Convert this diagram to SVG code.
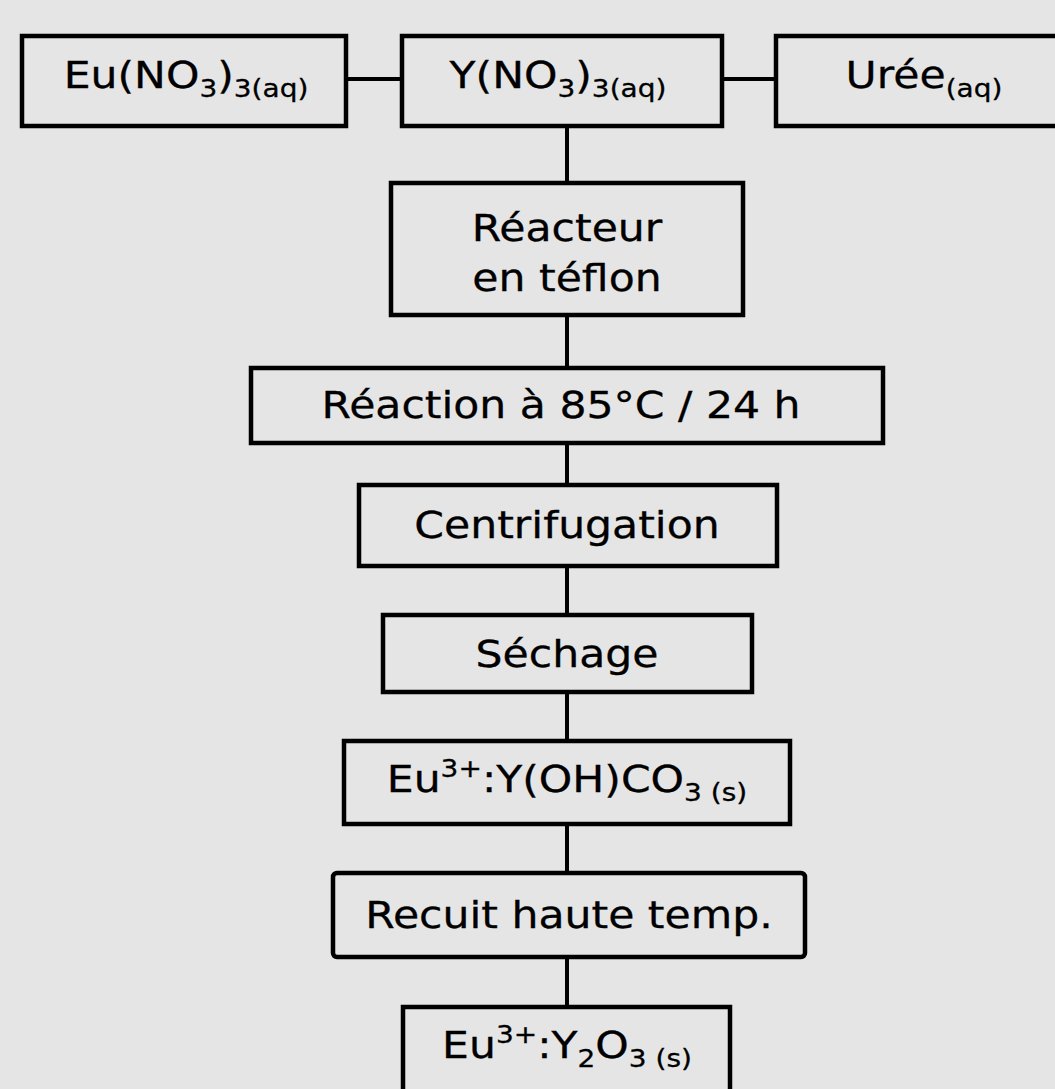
<svg xmlns="http://www.w3.org/2000/svg" width="1055" height="1089" viewBox="0 0 1055 1089">
<style>
.box{fill:none;stroke:#000;stroke-width:4.5}
.con{fill:none;stroke:#000;stroke-width:4}
text{font-family:"DejaVu Sans",Verdana,sans-serif;font-size:38px;fill:#000;stroke:#000;stroke-width:0.3;text-anchor:middle}
.s{font-size:25px}
</style>
<rect x="0" y="0" width="1055" height="1089" fill="#e5e5e5"/>
<g id="connectors">
<line class="con" x1="346" y1="79" x2="402" y2="79"/>
<line class="con" x1="722" y1="79" x2="775" y2="79"/>
<line class="con" x1="567" y1="127" x2="567" y2="183"/>
<line class="con" x1="567" y1="315" x2="567" y2="368"/>
<line class="con" x1="567" y1="443" x2="567" y2="485"/>
<line class="con" x1="567" y1="566" x2="567" y2="615"/>
<line class="con" x1="567" y1="692" x2="567" y2="741"/>
<line class="con" x1="567" y1="824" x2="567" y2="873"/>
<line class="con" x1="567" y1="957" x2="567" y2="1007"/>
</g>
<g id="eu-nitrate">
<rect class="box" x="22" y="36" width="324" height="90"/>
<text transform="translate(186 88) scale(1.12 1)">Eu(NO<tspan class="s" dy="9">3</tspan><tspan dy="-9">)</tspan><tspan class="s" dy="9">3(aq)</tspan></text>
</g>
<g id="y-nitrate">
<rect class="box" x="402" y="36" width="320" height="90"/>
<text transform="translate(558 88) scale(1.12 1)">Y(NO<tspan class="s" dy="9">3</tspan><tspan dy="-9">)</tspan><tspan class="s" dy="9">3(aq)</tspan></text>
</g>
<g id="uree">
<rect class="box" x="776" y="36" width="300" height="90"/>
<text transform="translate(924 88) scale(1.12 1)">Urée<tspan class="s" dy="9">(aq)</tspan></text>
</g>
<g id="reacteur">
<rect class="box" x="391" y="183" width="352" height="132"/>
<text transform="translate(567 241) scale(1.12 1)">Réacteur</text>
<text transform="translate(567 291) scale(1.12 1)">en téflon</text>
</g>
<g id="reaction">
<rect class="box" x="251" y="368" width="632" height="75"/>
<text transform="translate(561 418) scale(1.12 1)">Réaction à 85°C / 24 h</text>
</g>
<g id="centrifugation">
<rect class="box" x="359" y="485" width="418" height="81"/>
<text transform="translate(567 538) scale(1.12 1)">Centrifugation</text>
</g>
<g id="sechage">
<rect class="box" x="383" y="615" width="369" height="77"/>
<text transform="translate(567 667) scale(1.12 1)">Séchage</text>
</g>
<g id="hydroxycarbonate">
<rect class="box" x="344" y="741" width="446" height="83"/>
<text transform="translate(567 792) scale(1.12 1)">Eu<tspan class="s" dy="-15">3+</tspan><tspan dy="15">:Y(OH)CO</tspan><tspan class="s" dy="9">3 (s)</tspan></text>
</g>
<g id="recuit">
<rect class="box" x="333" y="873" width="472" height="84" rx="4"/>
<text transform="translate(569 928) scale(1.12 1)">Recuit haute temp.</text>
</g>
<g id="oxyde">
<rect class="box" x="403" y="1007" width="327" height="100"/>
<text transform="translate(567 1058) scale(1.12 1)">Eu<tspan class="s" dy="-15">3+</tspan><tspan dy="15">:Y</tspan><tspan class="s" dy="9">2</tspan><tspan dy="-9">O</tspan><tspan class="s" dy="9">3 (s)</tspan></text>
</g>
</svg>
